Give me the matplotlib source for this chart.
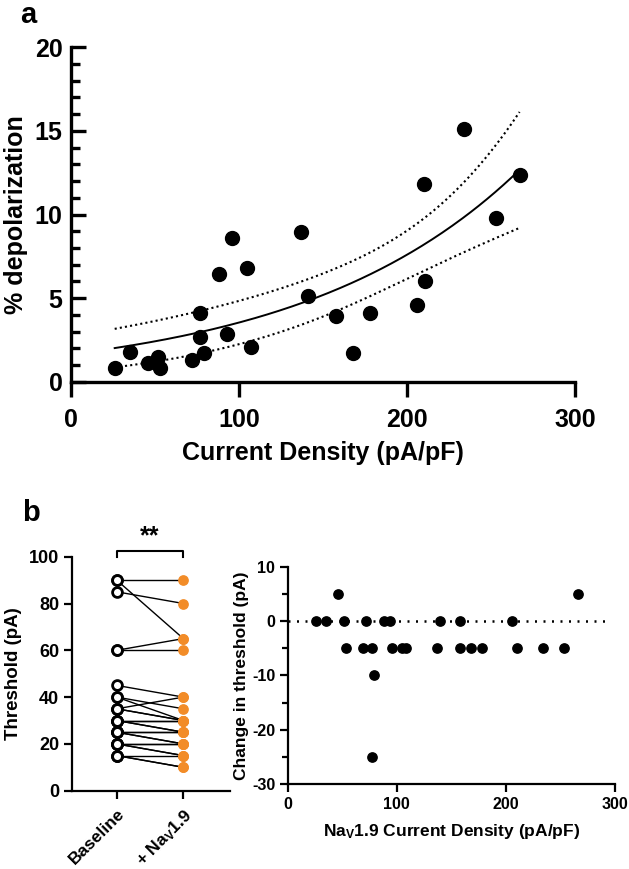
import numpy as np
import matplotlib
matplotlib.use("Agg")
import matplotlib.pyplot as plt
from matplotlib.ticker import MultipleLocator

plt.rcParams['font.family'] = ['Liberation Sans', 'DejaVu Sans']
plt.rcParams['font.weight'] = 'bold'
plt.rcParams['mathtext.default'] = 'regular'
plt.rcParams['axes.unicode_minus'] = False

# panel a: current density vs % depolarization
cur_density = [26, 35, 46, 52, 53, 72, 77, 77, 79, 88, 93, 96, 105, 107, 137,
               141, 158, 168, 178, 206, 210, 211, 234, 253, 267]
depol = [0.8, 1.8, 1.1, 1.45, 0.8, 1.3, 4.1, 2.7, 1.7, 6.45, 2.85, 8.6, 6.8, 2.05,
         8.95, 5.1, 3.95, 1.7, 4.1, 4.6, 11.8, 6.05, 15.1, 9.8, 12.35]

# panel b left: paired thresholds (pA)
groups = ['Baseline', '+ Na$_V$1.9']
baseline = [90, 90, 85, 60, 60, 45, 40, 40, 35, 35, 35, 30, 30, 30, 30,
            25, 25, 25, 25, 20, 20, 20, 20, 15, 15, 15]
with_nav = [90, 65, 80, 65, 60, 40, 30, 35, 40, 30, 30, 30, 30, 25, 25,
            25, 25, 20, 20, 20, 20, 15, 15, 15, 10, 10]

# panel b right: change in threshold vs NaV1.9 current density
nav_density = [26, 35, 46, 52, 53, 69, 72, 77, 77, 79, 88, 94, 96, 105, 108,
               137, 140, 158, 158, 168, 178, 206, 210, 234, 253, 266]
delta_thr = [0, 0, 5, 0, -5, -5, 0, -5, -25, -10, 0, 0, -5, -5, -5,
             -5, 0, 0, -5, -5, -5, 0, -5, -5, -5, 5]


def fit_exp_growth(x, y, n_iter=200):
    """Least-squares fit of y = y0*exp(k*x) (Gauss-Newton) with 95% CI band."""
    x = np.asarray(x, float)
    y = np.asarray(y, float)
    k, ly0 = np.polyfit(x, np.log(y), 1)
    p = np.array([np.exp(ly0), k])
    for _ in range(n_iter):
        f = p[0] * np.exp(p[1] * x)
        J = np.column_stack([np.exp(p[1] * x), p[0] * x * np.exp(p[1] * x)])
        step = np.linalg.lstsq(J, y - f, rcond=None)[0]
        p = p + step
        if np.all(np.abs(step) < 1e-10):
            break
    f = p[0] * np.exp(p[1] * x)
    J = np.column_stack([np.exp(p[1] * x), p[0] * x * np.exp(p[1] * x)])
    s2 = np.sum((y - f) ** 2) / (len(x) - 2)
    cov = s2 * np.linalg.inv(J.T @ J)
    return p, cov


p, cov = fit_exp_growth(cur_density, depol)
t95 = 2.069  # t(0.975, df=23)
xf = np.linspace(min(cur_density), max(cur_density), 200)
yf = p[0] * np.exp(p[1] * xf)
G = np.column_stack([np.exp(p[1] * xf), p[0] * xf * np.exp(p[1] * xf)])
se = np.sqrt(np.einsum('ij,jk,ik->i', G, cov, G))

fig = plt.figure(figsize=(6.29, 8.69), dpi=100)
W, H = 629, 869

# ---------------- panel a ----------------
ax = fig.add_axes([71 / W, 1 - 381.7 / H, 504 / W, 334.4 / H])
ax.scatter(cur_density, depol, s=100, color='black', zorder=3, clip_on=False)
ax.plot(xf, yf, color='black', lw=1.4)
ax.plot(xf, yf + t95 * se, color='black', lw=1.5, ls=(0, (1, 1.5)))
ax.plot(xf, yf - t95 * se, color='black', lw=1.5, ls=(0, (1, 1.5)))
ax.set_xlim(0, 300)
ax.set_ylim(0, 20)
ax.set_xticks([0, 100, 200, 300])
ax.set_yticks([0, 5, 10, 15, 20])
ax.yaxis.set_minor_locator(MultipleLocator(1))
for s in ['top', 'right']:
    ax.spines[s].set_visible(False)
for s in ['left', 'bottom']:
    ax.spines[s].set_linewidth(2.4)
ax.tick_params(axis='y', which='major', direction='in', length=11, width=2.4,
               labelsize=18, pad=6)
ax.tick_params(axis='y', which='minor', direction='in', length=6.5, width=2.4)
ax.tick_params(axis='x', which='major', direction='out', length=11, width=2.4,
               labelsize=18, pad=8)
ax.set_xlabel('Current Density (pA/pF)', fontsize=18, fontweight='bold')
ax.set_ylabel('% depolarization', fontsize=18, fontweight='bold')
ax.xaxis.set_label_coords(0.5, -0.213)
ax.xaxis.label.set_va('center')
ax.yaxis.set_label_coords(-0.109, 0.5)
ax.yaxis.label.set_va('center')
fig.text(20 / W, 1 - 15 / H, 'a', fontsize=21, fontweight='bold', va='center')

# ---------------- panel b, left ----------------
ax1 = fig.add_axes([71.7 / W, 1 - 790.7 / H, 158.3 / W, 234 / H])
for b, n in zip(baseline, with_nav):
    ax1.plot([0, 1], [b, n], color='black', lw=1.0, zorder=1)
ax1.scatter(np.zeros(len(baseline)), baseline, s=50, facecolor='white',
            edgecolor='black', linewidth=2.0, zorder=3, clip_on=False)
ax1.scatter(np.ones(len(with_nav)), with_nav, s=45, color='#F28C28',
            zorder=3, clip_on=False)
ax1.set_xlim(-0.675, 1.7)
ax1.set_ylim(0, 100)
ax1.set_yticks([0, 20, 40, 60, 80, 100])
ax1.set_xticks([0, 1])
ax1.set_xticklabels(groups, rotation=45, ha='right', rotation_mode='anchor',
                    fontweight='bold')
for s in ['top', 'right']:
    ax1.spines[s].set_visible(False)
for s in ['left', 'bottom']:
    ax1.spines[s].set_linewidth(1.6)
ax1.tick_params(axis='both', direction='out', length=6, width=1.6,
                labelsize=13, pad=3)
ax1.tick_params(axis='x', labelsize=12.5, pad=5)
ax1.set_ylabel('Threshold (pA)', fontsize=13.5, fontweight='bold')
ax1.yaxis.set_label_coords(-0.365, 0.5)
ax1.yaxis.label.set_va('center')
# significance bracket
ax1.plot([0, 0, 1, 1], [99.7, 102.4, 102.4, 99.7], color='black', lw=1.5,
         clip_on=False)
ax1.text(0.5, 108.5, '**', ha='center', va='center', fontsize=18,
         fontweight='bold')
fig.text(22 / W, 1 - 513 / H, 'b', fontsize=21, fontweight='bold', va='center')

# ---------------- panel b, right ----------------
ax2 = fig.add_axes([287.7 / W, 1 - 784.3 / H, 327.3 / W, 217.6 / H])
ax2.axhline(0, xmin=0, xmax=295 / 300, color='black', lw=1.8,
            ls=(0, (0.8, 2.6)), zorder=1)
ax2.scatter(nav_density, delta_thr, s=45, color='black', zorder=3,
            clip_on=False)
ax2.set_xlim(0, 300)
ax2.set_ylim(-30, 10)
ax2.set_xticks([0, 100, 200, 300])
ax2.set_yticks([-30, -20, -10, 0, 10])
ax2.yaxis.set_minor_locator(MultipleLocator(5))
for s in ['top', 'right']:
    ax2.spines[s].set_visible(False)
for s in ['left', 'bottom']:
    ax2.spines[s].set_linewidth(1.6)
ax2.tick_params(axis='both', which='major', direction='out', length=6,
                width=1.6, labelsize=11.5, pad=3)
ax2.tick_params(axis='y', which='minor', direction='out', length=4, width=1.6)
ax2.set_xlabel('Na$_V$1.9 Current Density (pA/pF)', fontsize=12.5,
               fontweight='bold')
ax2.set_ylabel('Change in threshold (pA)', fontsize=12.5, fontweight='bold')
ax2.xaxis.set_label_coords(0.5, -0.218)
ax2.xaxis.label.set_va('center')
ax2.yaxis.set_label_coords(-0.14, 0.5)
ax2.yaxis.label.set_va('center')

fig.savefig('out.png', dpi=100)
